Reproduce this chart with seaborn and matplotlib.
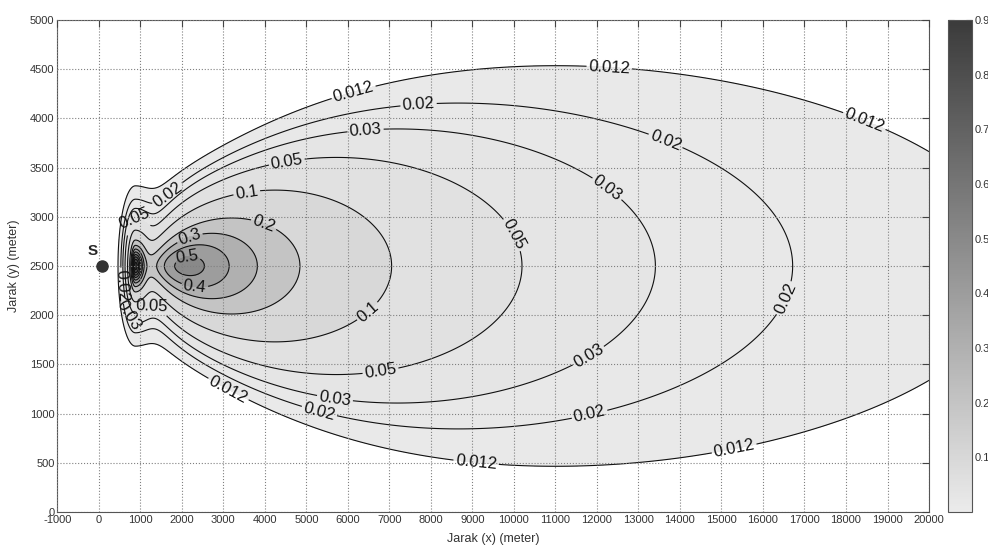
import numpy as np
import matplotlib
matplotlib.use('Agg')
import matplotlib.pyplot as plt
from matplotlib.colors import LinearSegmentedColormap, Normalize
from matplotlib.cm import ScalarMappable
import seaborn as sns

# level kontur konsentrasi
levels = [0.012, 0.02, 0.03, 0.05, 0.1, 0.2, 0.3, 0.4, 0.5, 0.6, 0.7, 0.8, 0.9]
cbar_ticks = [0.1, 0.2, 0.3, 0.4, 0.5, 0.6, 0.7, 0.8, 0.9]
x_ticks = [-1000, 0, 1000, 2000, 3000, 4000, 5000, 6000, 7000, 8000, 9000, 10000,
           11000, 12000, 13000, 14000, 15000, 16000, 17000, 18000, 19000, 20000]
y_ticks = [0, 500, 1000, 1500, 2000, 2500, 3000, 3500, 4000, 4500, 5000]

# sumber emisi (titik S)
source_x = 75
source_y = 2500

# parameter model plume
Q = 2.806e5        # laju emisi
u = 1.0            # kecepatan angin
H = 319            # tinggi efektif cerobong
sy_a, sy_p, sy_b = 4.75e-3, 1.5, 3e-4
sz_c, sz_q = 0.03, 1.17
nu_len = 1000      # skala ekor lateral

# zona dekat sumber (konsentrasi tinggi)
near_peak = 0.95
near_x, near_y = 880, 2500
near_sx_right, near_sx_left, near_sy = 220, 100, 195
near_power = 1.5

# posisi label kontur
label_positions = [
    (12300, 4530), (6190, 4187), (18500, 4035), (3100, 1230), (9090, 508), (15370, 508),
    (7720, 4035), (13680, 3800), (16460, 2185), (11870, 904), (5340, 1067), (1650, 3230),
    (6440, 3800), (12270, 3300), (11940, 1484), (5700, 1189),
    (4540, 3526), (10050, 2835), (6790, 1423),
    (3580, 3200), (6550, 2002),
    (3940, 2886), (1250, 2150),
    (2210, 2764), (2300, 2250), (2160, 2510),
    (820, 3000), (560, 2300), (700, 2000),
]

sns.set_style('white')
plt.rcParams['font.family'] = ['Liberation Sans', 'DejaVu Sans']
plt.rcParams['axes.unicode_minus'] = False

x = np.arange(-1000, 20001, 20)
y = np.arange(0, 5001, 10)
xx, yy = np.meshgrid(x, y)

# plume
X = xx - source_x
Xp = np.clip(X, 1, None)
sy = sy_a * Xp ** sy_p / (1 + sy_b * Xp)
sz = sz_c * Xp ** sz_q
nu = 1 + (Xp / nu_len) ** 2
lateral = (1 + (yy - source_y) ** 2 / (nu * sy ** 2)) ** (-(nu + 1) / 2)
C = Q / (np.pi * u * sy * sz) * lateral * np.exp(-H ** 2 / (2 * sz ** 2))
C[X <= 0] = 0

# dekat sumber
dx = xx - near_x
sx = np.where(dx > 0, near_sx_right, near_sx_left)
r2 = (dx / sx) ** 2 + ((yy - near_y) / near_sy) ** 2
C = C + near_peak / (1 + r2) ** near_power

cmap = LinearSegmentedColormap.from_list('abu', ['#ebebeb', '#3b3b3b'])
norm = Normalize(0, 0.9)
fill_levels = levels + [max(C.max(), 1.0) + 0.1]
fill_colors = [cmap(norm(v)) for v in levels]

fig = plt.figure(figsize=(9.88, 5.49), dpi=100)
ax = fig.add_axes([0.058, 0.0674, 0.8823, 0.8962])

ax.contourf(x, y, C, levels=fill_levels, colors=fill_colors)
cs = ax.contour(x, y, C, levels=levels, colors='#111111', linewidths=0.8)
ax.clabel(cs, fmt='%g', fontsize=12, manual=label_positions, inline=True, inline_spacing=2)

ax.plot(source_x, source_y, 'o', color='#333333', ms=8, zorder=5)
ax.text(-160, 2650, 'S', fontsize=11, fontweight='bold', ha='center', va='center', zorder=5)

ax.set_xlim(-1000, 20000)
ax.set_ylim(0, 5000)
ax.set_xticks(x_ticks)
ax.set_yticks(y_ticks)
ax.grid(True, linestyle=':', color='#808080', linewidth=0.8)
ax.set_axisbelow(False)
ax.tick_params(direction='in', top=True, right=True, length=5, width=0.8,
               labelsize=8, labelcolor='#333333', color='#444444', pad=2)
for s in ax.spines.values():
    s.set_color('#555555')
    s.set_linewidth(0.8)
ax.set_xlabel('Jarak (x) (meter)', fontsize=9, color='#333333', labelpad=6)
ax.set_ylabel('Jarak (y) (meter)', fontsize=9, color='#333333', labelpad=7)

cax = fig.add_axes([0.9595, 0.0674, 0.0243, 0.8962])
sm = ScalarMappable(norm=norm, cmap=cmap)
cb = fig.colorbar(sm, cax=cax, ticks=cbar_ticks)
cax.tick_params(direction='in', left=True, right=True, length=4, width=0.8,
                labelsize=8, labelcolor='#333333', color='#444444', pad=2)
cb.outline.set_edgecolor('#555555')
cb.outline.set_linewidth(0.8)

fig.savefig('out.png', dpi=100)
